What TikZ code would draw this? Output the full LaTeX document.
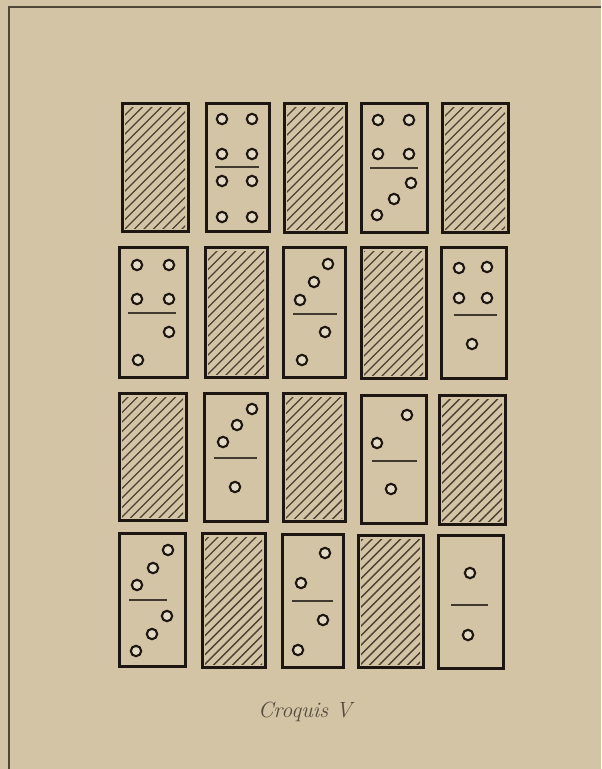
\documentclass[tikz,border=0pt]{standalone}
\usepackage{tikz}
\definecolor{paper}{RGB}{211,196,166}
\definecolor{ink}{RGB}{30,22,16}
\definecolor{hatchc}{RGB}{75,64,50}
\definecolor{pipfill}{RGB}{228,218,198}
\definecolor{capc}{RGB}{85,75,62}
\definecolor{framec}{RGB}{80,70,58}
\tikzset{
  dombox/.style={draw=ink,line width=1.5pt},
  hatchline/.style={draw=hatchc,line width=0.7pt},
  pipst/.style={draw=ink,line width=1.05pt,fill=pipfill},
  divline/.style={draw=ink!80!paper,line width=0.75pt},
  framest/.style={draw=framec,line width=0.9pt},
  captionst/.style={text=capc,font=\fontsize{11}{13}\selectfont\itshape}
}
\newcommand{\plaindom}[4]{\draw[dombox] (#1,#2) rectangle (#3,#4);}
\newcommand{\hatchdom}[4]{%
  \begin{scope}
    \clip ({#1+3},{#2+4}) rectangle ({#3-3},{#4-3});
    \foreach \k in {-16,...,8} \draw[hatchline] ({#1+\k*9.5},{#4}) -- ++(150,-150);
  \end{scope}
  \draw[dombox] (#1,#2) rectangle (#3,#4);}
\newcommand{\pip}[2]{\path[pipst] (#1,#2) circle[radius=2.6pt];}
\newcommand{\divd}[3]{\draw[divline] (#1,#3) -- (#2,#3);}
\begin{document}
\begin{tikzpicture}[x=0.5pt,y=-0.5pt]
\fill[paper] (0,0) rectangle (601,769);
\useasboundingbox (0,0) rectangle (601,769);
% frame
\draw[framest] (601,7) -- (9,7) -- (9,769);
% row 1
\hatchdom{122}{104}{188}{232}
\plaindom{206}{104}{269}{232}
\hatchdom{284}{104}{346}{233}
\plaindom{361}{104}{427}{233}
\hatchdom{442}{104}{508}{233}
% row 2
\plaindom{119}{248}{187}{377}
\hatchdom{205}{248}{267}{377}
\plaindom{283}{248}{345}{377}
\hatchdom{361}{248}{426}{378}
\plaindom{441}{248}{506}{378}
% row 3
\hatchdom{119}{393}{186}{520}
\plaindom{204}{393}{267}{521}
\hatchdom{283}{393}{345}{521}
\plaindom{361}{395}{426}{523}
\hatchdom{439}{395}{505}{524}
% row 4
\plaindom{119}{533}{185}{666}
\hatchdom{202}{533}{265}{667}
\plaindom{282}{534}{343}{667}
\hatchdom{358}{535}{423}{667}
\plaindom{438}{535}{503}{668}
% r1c2 : 4|4
\pip{222}{119}\pip{252}{119}\pip{222}{154}\pip{252}{154}
\divd{215}{259}{167}
\pip{222}{181}\pip{252}{181}\pip{222}{217}\pip{252}{217}
% r1c4 : 4|3
\pip{378}{120}\pip{409}{120}\pip{378}{154}\pip{409}{154}
\divd{370}{418}{168}
\pip{411}{183}\pip{394}{199}\pip{377}{215}
% r2c1 : 4|2
\pip{137}{265}\pip{169}{265}\pip{137}{299}\pip{169}{299}
\divd{128}{176}{313}
\pip{169}{332}\pip{138}{360}
% r2c3 : 3|2
\pip{328}{264}\pip{314}{282}\pip{300}{300}
\divd{293}{337}{314}
\pip{325}{332}\pip{302}{360}
% r2c5 : 4|1
\pip{459}{268}\pip{487}{267}\pip{459}{298}\pip{487}{298}
\divd{454}{497}{315}
\pip{472}{344}
% r3c2 : 3|1
\pip{252}{409}\pip{237}{425}\pip{223}{442}
\divd{214}{257}{458}
\pip{235}{487}
% r3c4 : 2|1
\pip{407}{415}\pip{377}{443}
\divd{372}{417}{461}
\pip{391}{489}
% r4c1 : 3|3
\pip{168}{550}\pip{153}{568}\pip{137}{585}
\divd{129}{167}{600}
\pip{167}{616}\pip{152}{634}\pip{136}{651}
% r4c3 : 2|2
\pip{325}{553}\pip{301}{583}
\divd{292}{333}{601}
\pip{323}{620}\pip{298}{650}
% r4c5 : 1|1
\pip{470}{573}
\divd{451}{488}{605}
\pip{468}{635}
% caption
\node[captionst] (cap) at (305,712) {Croquis V};
\end{tikzpicture}
\end{document}
